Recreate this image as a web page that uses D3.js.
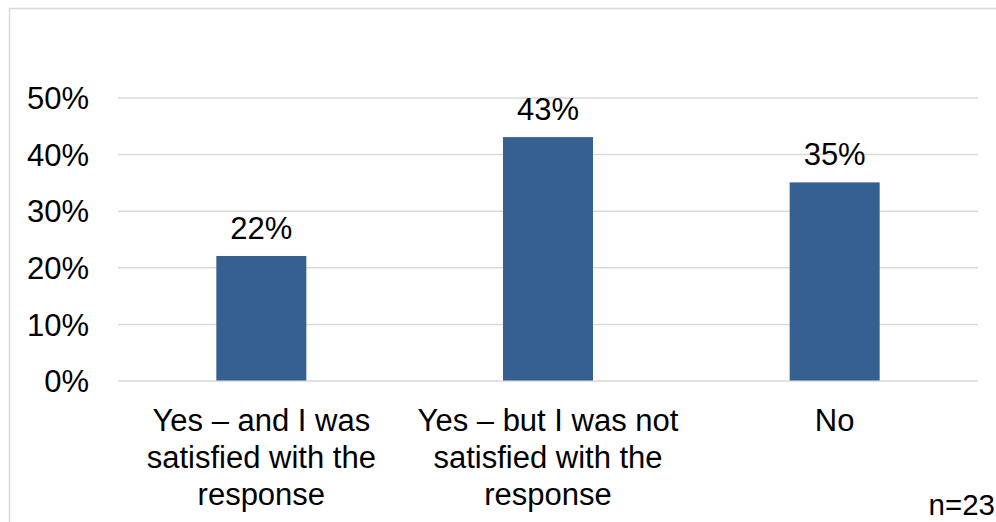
<!DOCTYPE html>
<html>
<head>
<meta charset="utf-8">
<script src="https://cdn.jsdelivr.net/npm/d3@7"></script>
<style>
  html, body { margin: 0; padding: 0; background: #fff; }
  svg { display: block; font-family: "Liberation Sans", Arial, sans-serif; }
</style>
</head>
<body>
<svg id="chart" width="996" height="522"></svg>
<script>
// Survey answers and their shares (percent)
const categories = [
  ["Yes \u2013 and I was", "satisfied with the", "response"],
  ["Yes \u2013 but I was not", "satisfied with the", "response"],
  ["No"]
];
const values = [22, 43, 35];
const tickValues = [0, 10, 20, 30, 40, 50];
const sampleNote = "n=23";

const svg = d3.select("#chart");
const W = 996, H = 522;

// Outer frame
svg.append("rect")
  .attr("x", 9.5).attr("y", 8.5)
  .attr("width", W + 10).attr("height", H + 10)
  .attr("fill", "none").attr("stroke", "#d9d9d9").attr("stroke-width", 1.5);

const plot = { left: 118, right: 978, top: 97.5, bottom: 380.5 };
const keys = categories.map((c, i) => i);

const x = d3.scaleBand()
  .domain(keys)
  .range([plot.left, plot.right])
  .paddingInner(0.686)
  .paddingOuter(0.343);

const y = d3.scaleLinear()
  .domain([0, 50])
  .range([plot.bottom, plot.top]);

// Gridlines and percent labels
const yAxis = d3.axisLeft(y)
  .tickValues(tickValues)
  .tickSize(-(plot.right - plot.left))
  .tickPadding(29)
  .tickFormat(d => d + "%");

const gy = svg.append("g")
  .attr("transform", `translate(${plot.left},0)`)
  .call(yAxis);
gy.select(".domain").remove();
gy.selectAll(".tick line")
  .attr("stroke", "#d9d9d9").attr("stroke-width", 1.5);
gy.selectAll(".tick text")
  .attr("font-size", 31).attr("fill", "#000")
  .attr("dy", "0.36em")
  .attr("font-family", "'Liberation Sans', Arial, sans-serif");

// Bars
svg.append("g").selectAll("rect")
  .data(values)
  .join("rect")
  .attr("x", (d, i) => x(i))
  .attr("y", d => y(d))
  .attr("width", x.bandwidth())
  .attr("height", d => y(0) - y(d))
  .attr("fill", "#376092");

// Value labels above bars
svg.append("g").selectAll("text")
  .data(values)
  .join("text")
  .attr("x", (d, i) => x(i) + x.bandwidth() / 2)
  .attr("y", d => y(d) - 17)
  .attr("text-anchor", "middle")
  .attr("font-size", 31)
  .attr("fill", "#000")
  .text(d => d + "%");

// Category labels (wrapped)
const cat = svg.append("g").selectAll("text")
  .data(categories)
  .join("text")
  .attr("text-anchor", "middle")
  .attr("font-size", 31)
  .attr("fill", "#000");
cat.each(function(lines, i) {
  const cx = x(i) + x.bandwidth() / 2;
  d3.select(this).selectAll("tspan")
    .data(lines)
    .join("tspan")
    .attr("x", cx)
    .attr("y", (l, j) => 431 + j * 37)
    .text(l => l);
});

// Sample size note
svg.append("text")
  .attr("x", 995).attr("y", 515)
  .attr("text-anchor", "end")
  .attr("font-size", 29.5)
  .attr("fill", "#000")
  .text(sampleNote);
</script>
</body>
</html>
